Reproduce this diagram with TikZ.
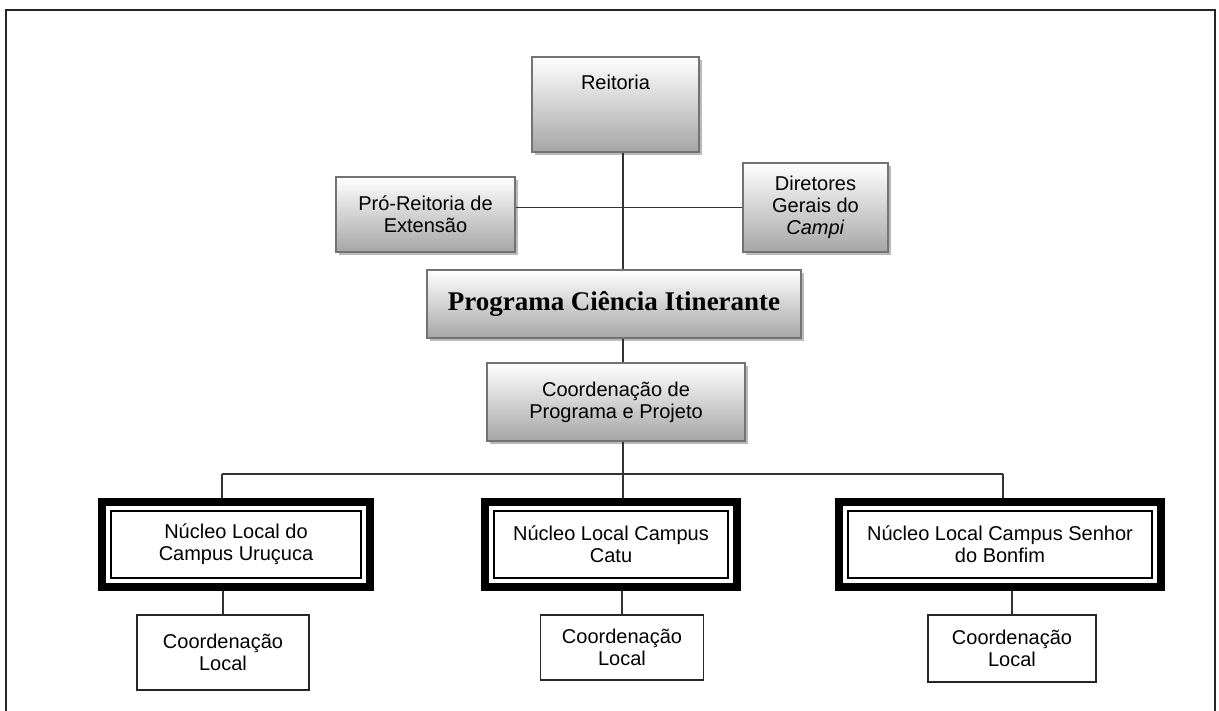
\documentclass[tikz,border=0pt]{standalone}
\usepackage{fontspec}
\setmainfont{Liberation Sans}
\newfontfamily\titlefont{Liberation Serif}
\usetikzlibrary{shadows,fit}

\tikzset{
  grau/.style={draw=black!55, line width=1pt, top color=white, bottom color=black!35,
    drop shadow={shadow xshift=1.5pt, shadow yshift=-1.5pt, fill=black!45, opacity=0.6},
    align=center, inner sep=0pt, font=\fontsize{10}{11}\selectfont},
  nucleo/.style={draw=black, line width=0.9pt, fill=white, align=center, inner sep=0pt,
    font=\fontsize{10}{11}\selectfont},
  rahmen/.style={draw=black, line width=4pt, inner sep=4pt},
  lokal/.style={draw=black!85, line width=0.9pt, fill=white, align=center, inner sep=0pt,
    font=\fontsize{10}{11}\selectfont},
  liga/.style={draw=black!80, line width=0.8pt}
}

\begin{document}
\begin{tikzpicture}[x=0.5pt, y=-0.5pt]
    \useasboundingbox (0,0) rectangle (1219,711);
    \draw[line width=1.2pt, black!85] (6,711) -- (6,10) -- (1215,10) -- (1215,711);

    \node[grau, minimum width=83.5pt, minimum height=47.5pt, text height=16.5pt, text depth=31pt] (reitoria) at (615.5,104.5) {Reitoria};
    \node[grau, minimum width=89.5pt, minimum height=37.5pt] (pro) at (425.5,214.5) {Pró-Reitoria de\\Extensão};
    \node[grau, minimum width=72.5pt, minimum height=44.5pt] (diretores) at (815.5,207.5) {Diretores\\Gerais do\\\textit{Campi}};
    \node[grau, minimum width=187pt, minimum height=34pt, font=\titlefont\bfseries\fontsize{13.5}{15}\selectfont] (programa) at (614,304) {Programa Ciência Itinerante};
    \node[grau, minimum width=129pt, minimum height=39pt] (coord) at (616,402) {Coordenação de\\Programa e Projeto};

    \node[nucleo, minimum width=125pt, minimum height=33.5pt] (n1) at (236,544.5) {Núcleo Local do\\Campus Uruçuca};
    \node[nucleo, minimum width=117pt, minimum height=33.5pt] (n2) at (611,544.5) {Núcleo Local Campus\\Catu};
    \node[nucleo, minimum width=152pt, minimum height=33.5pt] (n3) at (1000,544.5) {Núcleo Local Campus Senhor\\do Bonfim};
    \node[rahmen, fit=(n1)] (f1) {};
    \node[rahmen, fit=(n2)] (f2) {};
    \node[rahmen, fit=(n3)] (f3) {};

    \node[lokal, minimum width=86pt, minimum height=37.5pt] (cl1) at (223,652.5) {Coordenação\\Local};
    \node[lokal, minimum width=81.5pt, minimum height=32.5pt] (cl2) at (622,647.5) {Coordenação\\Local};
    \node[lokal, minimum width=84pt, minimum height=33.5pt] (cl3) at (1012,648.5) {Coordenação\\Local};

    \coordinate (spine) at (623,0);
    \coordinate (barl) at (222,474);
    \coordinate (barr) at (1003,474);

    \draw[liga] (reitoria.south -| spine) -- (programa.north -| spine);
    \draw[liga] (pro.east |- diretores) -- (diretores.west);
    \draw[liga] (programa.south -| spine) -- (coord.north -| spine);
    \draw[liga] (coord.south -| spine) -- (spine |- barl);
    \draw[liga] (barl) -- (barr);
    \draw[liga] (barl) -- (barl |- f1.north);
    \draw[liga] (spine |- barl) -- (spine |- f2.north);
    \draw[liga] (barr) -- (barr |- f3.north);
    \draw[liga] (f1.south -| cl1) -- (cl1.north);
    \draw[liga] (f2.south -| cl2) -- (cl2.north);
    \draw[liga] (f3.south -| cl3) -- (cl3.north);
\end{tikzpicture}
\end{document}
